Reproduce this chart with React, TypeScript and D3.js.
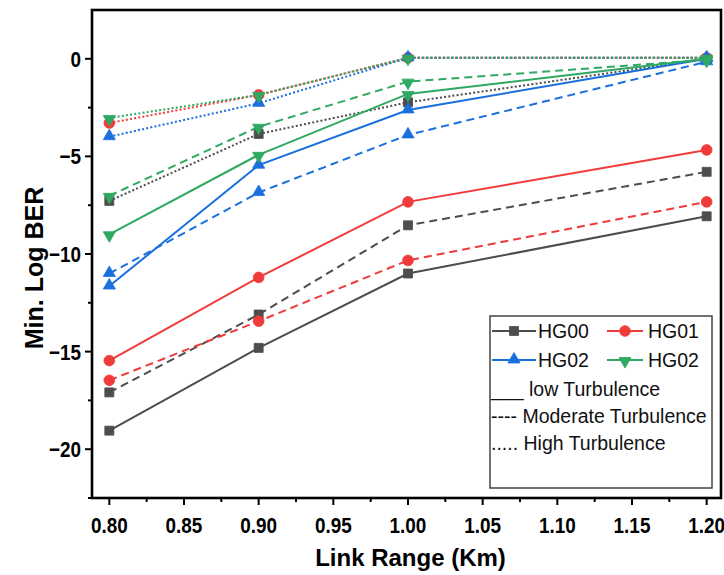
import React from 'react';
import * as d3 from 'd3';

// ---- Data ----
const linkRange = [0.8, 0.9, 1.0, 1.2];

const hg00Low = [-19.05, -14.81, -11.0, -8.07];
const hg00Moderate = [-17.09, -13.1, -8.53, -5.79];
const hg00High = [-7.28, -3.85, -2.23, 0.0];

const hg01Low = [-15.46, -11.2, -7.33, -4.67];
const hg01Moderate = [-16.47, -13.44, -10.33, -7.33];
const hg01High = [-3.29, -1.85, 0.05, 0.05];

const hg02Low = [-11.64, -5.45, -2.62, 0.0];
const hg02Moderate = [-11.0, -6.85, -3.9, -0.15];
const hg02High = [-3.99, -2.28, 0.05, 0.05];

const hg02bLow = [-8.99, -4.92, -1.8, 0.0];
const hg02bModerate = [-7.02, -3.48, -1.17, -0.05];
const hg02bHigh = [-3.03, -1.85, 0.05, 0.05];

const modeNames = ['HG00', 'HG01', 'HG02', 'HG02'];
const turbulenceLabels = ['___ low Turbulence', '---- Moderate Turbulence', '..... High Turbulence'];
const xTickValues = [0.8, 0.85, 0.9, 0.95, 1.0, 1.05, 1.1, 1.15, 1.2];
const yTickValues = [-20, -15, -10, -5, 0];

// ---- Styles ----
const W = 724;
const H = 575;
const PL = 92, PR = 721, PT = 10, PB = 498;
const colors = ['#4d4d4d', '#F03B3B', '#1A6FDF', '#2FA862'];
const markerKinds = ['square', 'circle', 'triangleUp', 'triangleDown'];
const dashes = [undefined, '8,5', '2,2.2'];

const x = d3.scaleLinear().domain([0.7884, 1.2096]).range([PL, PR]);
const y = d3.scaleLinear().domain([-22.5, 2.5]).range([PB, PT]);

const seriesByMode = [
  [hg00Low, hg00Moderate, hg00High],
  [hg01Low, hg01Moderate, hg01High],
  [hg02Low, hg02Moderate, hg02High],
  [hg02bLow, hg02bModerate, hg02bHigh],
];

const symbolPath = (kind: string) => {
  if (kind === 'square') return d3.symbol(d3.symbolSquare, 81)()!;
  if (kind === 'circle') return d3.symbol(d3.symbolCircle, 90)()!;
  return d3.symbol(d3.symbolTriangle, 64)()!;
};

const Marker = ({ kind, cx, cy, color }: { kind: string; cx: number; cy: number; color: string }) => {
  const rot = kind === 'triangleDown' ? ' rotate(180)' : '';
  const dy = kind === 'triangleDown' ? 1 : kind === 'triangleUp' ? -0.5 : 0;
  return (
    <path
      d={symbolPath(kind)}
      transform={`translate(${cx},${cy + dy})${rot}`}
      fill={color}
      stroke={color}
      strokeWidth={0.8}
    />
  );
};

export default function App() {
  const line = d3
    .line<[number, number]>()
    .x((d) => x(d[0]))
    .y((d) => y(d[1]));

  const xMinor = d3.range(0.8, 1.2, 0.05).map((v) => v + 0.025);
  const yMinor = d3.range(-22.5, 0.01, 2.5).filter((v) => Math.abs(v % 5) > 0.1);

  const lx = 491;
  const rows = [331, 360];

  return (
    <svg
      width={W}
      height={H}
      style={{ position: 'fixed', left: 0, top: 0, background: '#fff' }}
      fontFamily="'Liberation Sans', Arial, sans-serif"
    >
      {/* series */}
      {seriesByMode.map((group, mi) =>
        group.map((vals, ti) => {
          const pts = linkRange.map((r, i) => [r, vals[i]] as [number, number]);
          return (
            <g key={`${mi}-${ti}`}>
              <path
                d={line(pts)!}
                fill="none"
                stroke={colors[mi]}
                strokeWidth={2}
                strokeDasharray={dashes[ti]}
              />
              {pts.map((p, i) => (
                <Marker key={i} kind={markerKinds[mi]} cx={x(p[0])} cy={y(p[1])} color={colors[mi]} />
              ))}
            </g>
          );
        })
      )}

      {/* frame */}
      <rect x={PL} y={PT} width={PR - PL} height={PB - PT} fill="none" stroke="#000" strokeWidth={2.6} />

      {/* x ticks */}
      {xTickValues.map((v) => (
        <g key={v}>
          <line x1={x(v)} x2={x(v)} y1={PB} y2={PB + 7} stroke="#000" strokeWidth={2} />
          <text
            transform={`translate(${x(v)},${533}) scale(0.86,1)`}
            textAnchor="middle"
            fontSize={22}
            fontWeight="bold"
          >
            {d3.format('.2f')(v)}
          </text>
        </g>
      ))}
      {xMinor.map((v) => (
        <line key={v} x1={x(v)} x2={x(v)} y1={PB} y2={PB + 4} stroke="#000" strokeWidth={2} />
      ))}

      {/* y ticks */}
      {yTickValues.map((v) => (
        <g key={v}>
          <line x1={PL - 7} x2={PL} y1={y(v)} y2={y(v)} stroke="#000" strokeWidth={2} />
          <text
            transform={`translate(${81},${y(v) + 8}) scale(0.86,1)`}
            textAnchor="end"
            fontSize={22}
            fontWeight="bold"
          >
            {v === 0 ? '0' : `\u2212${Math.abs(v)}`}
          </text>
        </g>
      ))}
      {yMinor.map((v) => (
        <line key={v} x1={PL - 4} x2={PL} y1={y(v)} y2={y(v)} stroke="#000" strokeWidth={2} />
      ))}

      {/* axis titles */}
      <text x={(PL + PR) / 2 + 4} y={566} textAnchor="middle" fontSize={24} fontWeight="bold">
        Link Range (Km)
      </text>
      <text
        transform={`translate(${43},${268}) rotate(-90)`}
        textAnchor="middle"
        fontSize={25}
        fontWeight="bold"
      >
        Min. Log BER
      </text>

      {/* legend */}
      <rect x={490} y={316} width={222} height={172} fill="#fff" stroke="#444" strokeWidth={1.5} />
      {modeNames.map((name, i) => {
        const col = i % 2;
        const row = Math.floor(i / 2);
        const x0 = col === 0 ? lx + 1 : 607;
        const x1 = col === 0 ? 536 : 643;
        const cy = rows[row];
        const tx = col === 0 ? 538 : 648;
        return (
          <g key={i}>
            <line x1={x0} x2={x1} y1={cy} y2={cy} stroke={colors[i]} strokeWidth={2} />
            <Marker kind={markerKinds[i]} cx={(x0 + x1) / 2} cy={cy} color={colors[i]} />
            <text x={tx} y={cy + 7} fontSize={19.5} fill="#111">
              {name}
            </text>
          </g>
        );
      })}
      {turbulenceLabels.map((t, i) => (
        <text key={t} x={lx} y={396 + i * 27} fontSize={19.5} fill="#111">
          {t}
        </text>
      ))}
    </svg>
  );
}
